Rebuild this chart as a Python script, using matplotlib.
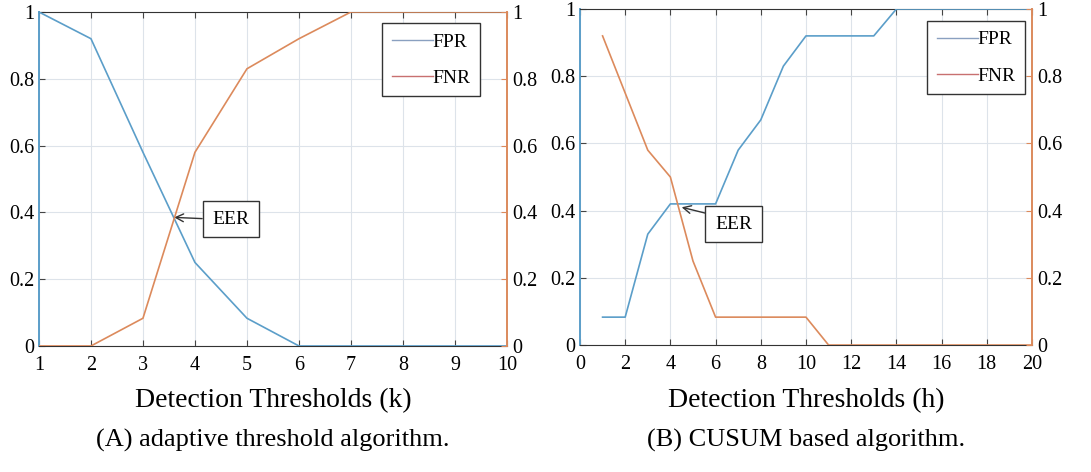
import matplotlib
matplotlib.use("Agg")
import matplotlib.pyplot as plt

plt.rcParams['font.family'] = ['Liberation Serif', 'DejaVu Serif']

# Data (A) adaptive threshold
k_vals = [1, 2, 3, 4, 5, 6, 7, 8, 9, 10]
fpr_a = [1.0, 0.92, 0.58, 0.25, 0.083, 0.0, 0.0, 0.0, 0.0, 0.0]
fnr_a = [0.0, 0.0, 0.083, 0.58, 0.83, 0.92, 1.0, 1.0, 1.0, 1.0]

# Data (B) CUSUM
h_vals = list(range(1, 21))
fpr_b = [0.083, 0.083, 0.33, 0.42, 0.42, 0.42, 0.58, 0.67, 0.83, 0.92,
         0.92, 0.92, 0.92, 1.0, 1.0, 1.0, 1.0, 1.0, 1.0, 1.0]
fnr_b = [0.92, 0.75, 0.58, 0.5, 0.25, 0.083, 0.083, 0.083, 0.083, 0.083,
         0.0, 0.0, 0.0, 0.0, 0.0, 0.0, 0.0, 0.0, 0.0, 0.0]

yticks = [0, 0.2, 0.4, 0.6, 0.8, 1.0]
ytick_labels = ["0", "0.2", "0.4", "0.6", "0.8", "1"]
xticks_a = list(range(1, 11))
xticks_b = list(range(0, 21, 2))

BLUE = "#5b9ec9"
ORANGE = "#dc8a5c"
LEG_BLUE = "#8aa0c0"
LEG_RED = "#c87070"

fig = plt.figure(figsize=(10.91, 4.72), dpi=100)

def make_panel(rect, x, fpr, fnr, xlim, xticks, xlabel, caption, eer_tip, eer_text, relpos, leg_bbox):
    ax = fig.add_axes(rect)
    ax.plot(x, fpr, color=BLUE, lw=1.2, zorder=3)
    ax.set_xlim(*xlim)
    ax.set_ylim(0, 1)
    ax.set_xticks(xticks)
    ax.set_yticks(yticks)
    ax.set_yticklabels(ytick_labels)
    ax.grid(True, color="#dde3ea", lw=0.8)
    ax.tick_params(direction="in", labelsize=14.5, top=True, length=4, color="#444444")
    ax.tick_params(axis="x", pad=7)
    ax.spines['left'].set_color(BLUE)
    ax.spines['left'].set_linewidth(1.4)
    ax.spines['top'].set_color("#333333")
    ax.spines['bottom'].set_color("#333333")
    ax.spines['right'].set_visible(False)
    ax2 = ax.twinx()
    ax2.plot(x, fnr, color=ORANGE, lw=1.2, zorder=3)
    ax2.set_ylim(0, 1)
    ax2.set_yticks(yticks)
    ax2.set_yticklabels(ytick_labels)
    ax2.tick_params(direction="in", labelsize=14.5, length=4, color=ORANGE)
    ax2.spines['right'].set_color(ORANGE)
    ax2.spines['right'].set_linewidth(1.4)
    for s in ['left', 'top', 'bottom']:
        ax2.spines[s].set_visible(False)
    # legend
    h1, = ax2.plot([], [], color=LEG_BLUE, lw=1.0)
    h2, = ax2.plot([], [], color=LEG_RED, lw=1.0)
    leg = ax2.legend([h1, h2], ["FPR", "FNR"], loc="upper left", bbox_to_anchor=leg_bbox,
                     fontsize=14, handlelength=2.1, handletextpad=0.0, labelspacing=0.95,
                     borderpad=0.5, borderaxespad=0, fancybox=False, framealpha=1,
                     edgecolor="#333333")
    leg.get_frame().set_linewidth(1.0)
    # EER annotation
    ax.annotate("EER", xy=eer_tip, xytext=eer_text, textcoords="data", fontsize=14,
                ha="center", va="center", zorder=5,
                bbox=dict(boxstyle="square,pad=0.5", fc="white", ec="#333333", lw=1.0),
                arrowprops=dict(arrowstyle="->", color="#333333", lw=1.0,
                                shrinkA=0, shrinkB=0, relpos=relpos))
    ax.set_xlabel(xlabel, fontsize=20, labelpad=10)
    ax.text(0.5, -0.283, caption, transform=ax.transAxes, ha="center", va="center", fontsize=19)
    return ax

make_panel([0.0357, 0.267, 0.4290, 0.7076], k_vals, fpr_a, fnr_a, (1, 10), xticks_a,
           "Detection Thresholds (k)", "(A) adaptive threshold algorithm.",
           (3.6, 0.385), (4.69, 0.38), (0, 0.5), (0.733, 0.966))
make_panel([0.5316, 0.269, 0.4143, 0.7119], h_vals, fpr_b, fnr_b, (0, 20), xticks_b,
           "Detection Thresholds (h)", "(B) CUSUM based algorithm.",
           (4.5, 0.41), (6.8, 0.36), (0, 1), (0.768, 0.964))

fig.savefig("out.png", dpi=100)
